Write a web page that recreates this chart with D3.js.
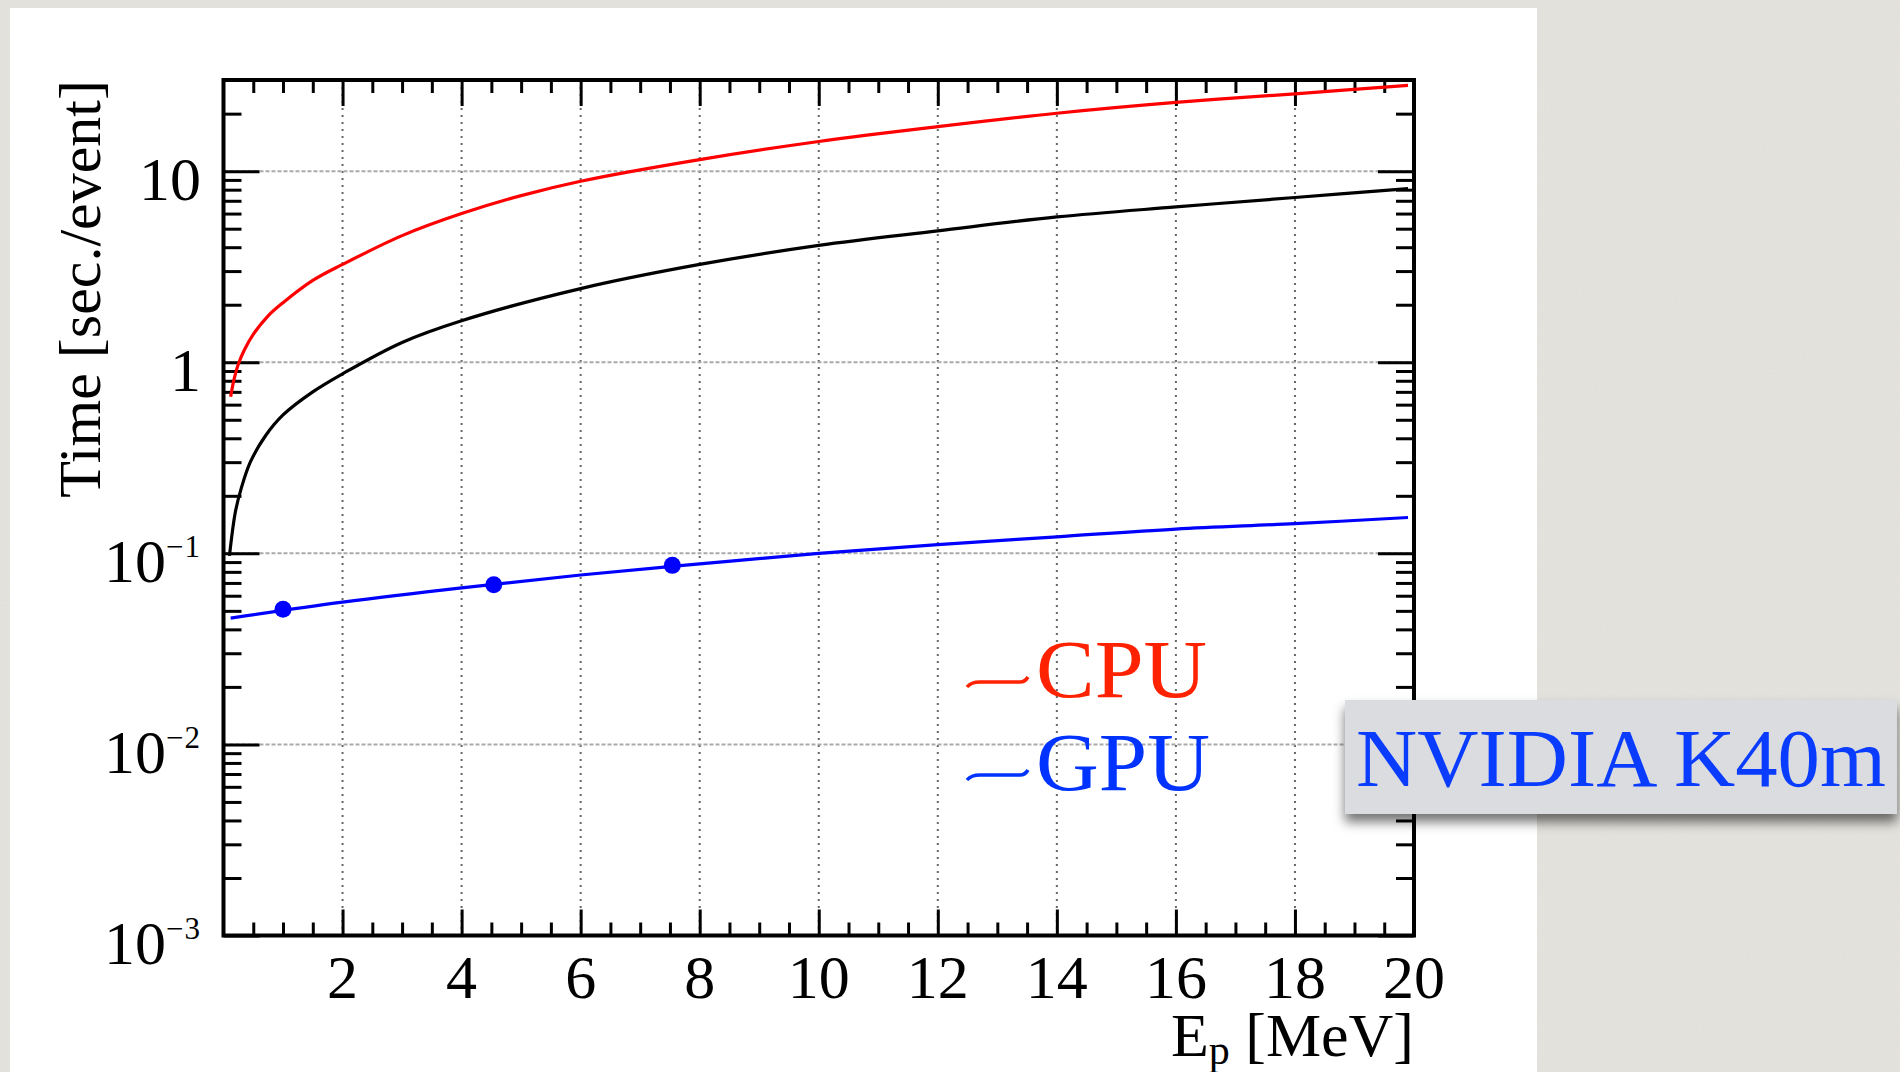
<!DOCTYPE html>
<html><head><meta charset="utf-8">
<script src="https://cdn.jsdelivr.net/npm/d3@7"></script>
<style>
html,body{margin:0;padding:0;background:#e5e3de;overflow:hidden;}
svg{display:block;}
text{font-family:"Liberation Serif","Times New Roman",serif;}
</style></head><body>
<svg id="c" width="1900" height="1072"></svg>
<script>
// ---------- data ----------
const xTickValues = [2,4,6,8,10,12,14,16,18,20];
const xTickLabels = ["2","4","6","8","10","12","14","16","18","20"];
const yTickValues = [0.001,0.01,0.1,1,10];
const yTickBase   = ["10","10","10","1","10"];
const yTickExp    = ["\u22123","\u22122","\u22121","",""];

// CPU (red)
const cpuE = [0.12,0.18,0.25,0.35,0.5,0.75,1,1.5,2,3,4,5,6,8,10,12,14,16,18,19.9];
const cpuT = [0.66,0.82,0.98,1.16,1.4,1.75,2.05,2.68,3.25,4.6,6.0,7.45,8.86,11.5,14.3,17.1,20.1,22.9,25.4,28.1];
// black curve
const blkE = [0.1,0.2,0.3,0.45,0.7,1,1.5,2,3,4,6,8,10,12,14,16,18,19.9];
const blkT = [0.097,0.165,0.22,0.3,0.41,0.53,0.7,0.87,1.27,1.65,2.43,3.25,4.09,4.87,5.76,6.5,7.28,8.1];
// GPU (blue) line
const gpuE = [0.12,2,4,6,8,10,12,14,16,18,19.9];
const gpuT = [0.0458,0.0555,0.066,0.077,0.088,0.1,0.111,0.122,0.134,0.143,0.154];
// GPU measured points
const gpuPtE = [1.0,4.54,7.54];
const gpuPtT = [0.051,0.0685,0.0865];

const legendNames  = ["CPU","GPU"];
const legendColors = ["#ff2200","#0033ff"];
const boxLabel = "NVIDIA K40m";

// ---------- drawing ----------
const svg = d3.select("#c");
const defs = svg.append("defs");
const L = 223.5, R = 1414, T = 80, B = 935.5;
const x = d3.scaleLinear().domain([0,20]).range([L,R]);
const y = d3.scaleLog().domain([0.001,30]).range([B,T]);

// textured page background
const nf = defs.append("filter").attr("id","noise").attr("x",0).attr("y",0).attr("width","100%").attr("height","100%");
nf.append("feTurbulence").attr("type","fractalNoise").attr("baseFrequency",0.9).attr("numOctaves",2).attr("seed",3).attr("result","n");
nf.append("feColorMatrix").attr("in","n").attr("type","matrix")
  .attr("values","0 0 0 0 0.5  0 0 0 0 0.49  0 0 0 0 0.47  0 0 0 0.35 0");
svg.append("rect").attr("width",1900).attr("height",1072).attr("fill","#e6e4df");
svg.append("rect").attr("width",1900).attr("height",1072).attr("filter","url(#noise)").attr("opacity",0.35);

// white panel
svg.append("rect").attr("x",10).attr("y",8).attr("width",1527).attr("height",1080).attr("fill","#ffffff");

// grid
const gGrid = svg.append("g");
gGrid.selectAll("line.v").data(xTickValues.filter(v=>v<20)).enter().append("line")
  .attr("x1",d=>x(d)).attr("x2",d=>x(d)).attr("y1",T).attr("y2",B)
  .attr("stroke","#666").attr("stroke-width",2).attr("stroke-dasharray","2,5");
gGrid.selectAll("line.h").data(yTickValues.filter(v=>v>0.001)).enter().append("line")
  .attr("x1",L).attr("x2",R).attr("y1",d=>y(d)).attr("y2",d=>y(d))
  .attr("stroke","#aaa").attr("stroke-width",2).attr("stroke-dasharray","4,2");

// axes ticks
const xMinor = d3.range(0,20.001,0.5).filter(v=>!xTickValues.includes(v) && v>0 && v<20);
const yMinor = y.ticks().filter(v=>!yTickValues.some(m=>Math.abs(m-v)/m<1e-6) && v>0.001 && v<30);
function drawAxis(axis, tr){
  const g = svg.append("g").attr("transform",tr).call(axis);
  g.select(".domain").remove();
  g.selectAll("line").attr("stroke","#000").attr("stroke-width",3);
  g.selectAll("text").remove();
}
drawAxis(d3.axisBottom(x).tickValues(xTickValues).tickSize(-26).tickFormat(""), `translate(0,${B})`);
drawAxis(d3.axisBottom(x).tickValues(xMinor).tickSize(-13).tickFormat(""), `translate(0,${B})`);
drawAxis(d3.axisTop(x).tickValues(xTickValues).tickSize(-26).tickFormat(""), `translate(0,${T})`);
drawAxis(d3.axisTop(x).tickValues(xMinor).tickSize(-13).tickFormat(""), `translate(0,${T})`);
drawAxis(d3.axisLeft(y).tickValues(yTickValues).tickSize(-36).tickFormat(""), `translate(${L},0)`);
drawAxis(d3.axisLeft(y).tickValues(yMinor).tickSize(-18).tickFormat(""), `translate(${L},0)`);
drawAxis(d3.axisRight(y).tickValues(yTickValues).tickSize(-36).tickFormat(""), `translate(${R},0)`);
drawAxis(d3.axisRight(y).tickValues(yMinor).tickSize(-18).tickFormat(""), `translate(${R},0)`);

// clip
defs.append("clipPath").attr("id","clip").append("rect").attr("x",L).attr("y",T).attr("width",R-L).attr("height",B-T);
const gPlot = svg.append("g").attr("clip-path","url(#clip)");
const line = d3.line().x(d=>x(d[0])).y(d=>y(d[1])).curve(d3.curveCatmullRom.alpha(0.5));
gPlot.append("path").datum(blkE.map((e,i)=>[e,blkT[i]])).attr("d",line)
  .attr("fill","none").attr("stroke","#000").attr("stroke-width",3.2);
gPlot.append("path").datum(cpuE.map((e,i)=>[e,cpuT[i]])).attr("d",line)
  .attr("fill","none").attr("stroke","#ff0000").attr("stroke-width",3.2);
gPlot.append("path").datum(gpuE.map((e,i)=>[e,gpuT[i]])).attr("d",line)
  .attr("fill","none").attr("stroke","#0000ff").attr("stroke-width",3.2);
gPlot.selectAll("circle").data(gpuPtE.map((e,i)=>[e,gpuPtT[i]])).enter().append("circle")
  .attr("cx",d=>x(d[0])).attr("cy",d=>y(d[1])).attr("r",8.5).attr("fill","#0000ff");

// frame
svg.append("rect").attr("x",L).attr("y",T).attr("width",R-L).attr("height",B-T)
  .attr("fill","none").attr("stroke","#000").attr("stroke-width",4);

// x tick labels
svg.append("g").selectAll("text").data(xTickValues).enter().append("text")
  .attr("x",d=>x(d)).attr("y",998).attr("text-anchor","middle").attr("font-size",62)
  .attr("fill","#000").text((d,i)=>xTickLabels[i]);

// y tick labels
const yl = svg.append("g").selectAll("text").data(yTickValues).enter().append("text")
  .attr("x",201).attr("y",d=>y(d)+28.5).attr("text-anchor","end").attr("font-size",62).attr("fill","#000");
yl.each(function(d,i){
  const t = d3.select(this);
  t.append("tspan").text(yTickBase[i]);
  if (yTickExp[i]) t.append("tspan").attr("font-size",31).attr("dy",-25).attr("letter-spacing",1).text(yTickExp[i]);
});

// axis titles
svg.append("text").attr("transform","translate(100,80) rotate(-90)")
  .attr("text-anchor","end").attr("font-size",60).attr("fill","#000").text("Time [sec./event]");
const xt = svg.append("text").attr("x",1414).attr("y",1056).attr("text-anchor","end").attr("font-size",62).attr("fill","#000");
xt.append("tspan").text("E");
xt.append("tspan").attr("font-size",42).attr("dy",8).text("p");
xt.append("tspan").attr("dy",-8).text(" [MeV]");

// legend
const legY = [697, 790];
const legLen = [171, 174];
legendNames.forEach((n,i)=>{
  const yy = legY[i];
  svg.append("path")
    .attr("d",`M${967},${yy-10} Q${971},${yy-15} ${980},${yy-15} L${1020},${yy-15} Q${1025},${yy-15} ${1028},${yy-20}`)
    .attr("fill","none").attr("stroke",legendColors[i]).attr("stroke-width",3.5);
  svg.append("text").attr("x",1036).attr("y",yy).attr("font-size",82)
    .attr("textLength",legLen[i]).attr("lengthAdjust","spacingAndGlyphs")
    .attr("fill",legendColors[i]).text(n);
});

// NVIDIA box
const f = defs.append("filter").attr("id","sh").attr("x","-10%").attr("y","-20%").attr("width","130%").attr("height","160%");
f.append("feDropShadow").attr("dx",0).attr("dy",8).attr("stdDeviation",6).attr("flood-color","#000").attr("flood-opacity",0.55);
svg.append("rect").attr("x",1345).attr("y",700).attr("width",552).attr("height",114)
  .attr("fill","#dbdcdf").attr("filter","url(#sh)");
svg.append("text").attr("x",1356).attr("y",786).attr("font-size",83)
  .attr("textLength",530).attr("lengthAdjust","spacingAndGlyphs")
  .attr("fill","#0a3cff").text(boxLabel);
</script>
</body></html>
